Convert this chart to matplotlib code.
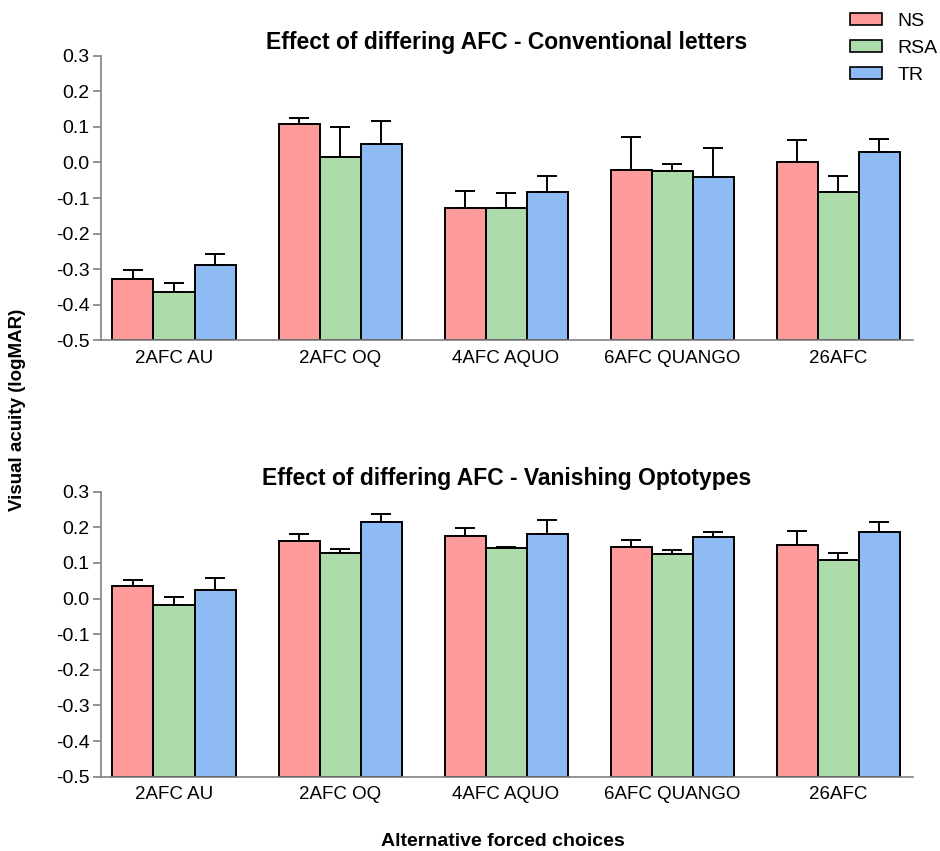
import numpy as np
import matplotlib
matplotlib.use('Agg')
from matplotlib import pyplot as plt
from matplotlib.patches import Patch

plt.rcParams['font.family'] = ['Liberation Sans', 'DejaVu Sans']

categories = ["2AFC AU", "2AFC OQ", "4AFC AQUO", "6AFC QUANGO", "26AFC"]
groups = ["NS", "RSA", "TR"]
colours = ["#FF9B9B", "#ACDCAA", "#8FBBF5"]

# Conventional letters: mean logMAR and upper SEM
letters_ns = [-0.327, 0.107, -0.127, -0.022, 0.002]
letters_rsa = [-0.364, 0.015, -0.127, -0.023, -0.083]
letters_tr = [-0.288, 0.052, -0.084, -0.041, 0.029]
letters_ns_err = [0.025, 0.019, 0.047, 0.094, 0.061]
letters_rsa_err = [0.026, 0.085, 0.040, 0.018, 0.044]
letters_tr_err = [0.030, 0.064, 0.045, 0.082, 0.038]

# Vanishing optotypes
vanish_ns = [0.035, 0.161, 0.176, 0.146, 0.150]
vanish_rsa = [-0.019, 0.129, 0.141, 0.125, 0.109]
vanish_tr = [0.024, 0.214, 0.182, 0.172, 0.187]
vanish_ns_err = [0.018, 0.021, 0.021, 0.019, 0.040]
vanish_rsa_err = [0.023, 0.009, 0.004, 0.012, 0.018]
vanish_tr_err = [0.034, 0.024, 0.039, 0.014, 0.027]

yticks = [-0.5, -0.4, -0.3, -0.2, -0.1, 0.0, 0.1, 0.2, 0.3]
base = -0.5


def drawpanel(ax, title, means, errs):
    x = np.arange(len(categories))
    width = 0.247
    for i, (vals, err) in enumerate(zip(means, errs)):
        pos = x + (i - 1) * width
        vals = np.array(vals)
        ax.bar(pos, vals - base, bottom=base, width=width, color=colours[i],
               edgecolor="black", linewidth=1.4, zorder=2)
        ax.errorbar(pos, vals, yerr=[np.zeros(len(vals)), err], fmt="none",
                    ecolor="black", elinewidth=1.4, capsize=7.5, capthick=1.4, zorder=3)

    ax.set_xlim(-0.44, 4.45)
    ax.set_ylim(-0.5, 0.3)
    ax.set_yticks(yticks)
    ax.set_yticklabels(["%.1f" % t for t in yticks], fontsize=14)
    ax.set_xticks(x)
    ax.set_xticklabels(categories, fontsize=13.5)
    ax.tick_params(axis="x", length=0, pad=7)
    ax.tick_params(axis="y", length=6, color="#808080", width=1.2, pad=2)
    for side in ["top", "right"]:
        ax.spines[side].set_visible(False)
    for side in ["left", "bottom"]:
        ax.spines[side].set_color("#808080")
        ax.spines[side].set_linewidth(1.2)
    ax.set_title(title, fontsize=16.5, fontweight="bold", pad=5)


fig = plt.figure(figsize=(9.4, 8.51), dpi=100)
ax1 = fig.add_axes([0.1074, 0.6001, 0.8636, 0.3344])
ax2 = fig.add_axes([0.1074, 0.0873, 0.8636, 0.3349])

drawpanel(ax1, "Effect of differing AFC - Conventional letters",
          [letters_ns, letters_rsa, letters_tr],
          [letters_ns_err, letters_rsa_err, letters_tr_err])
drawpanel(ax2, "Effect of differing AFC - Vanishing Optotypes",
          [vanish_ns, vanish_rsa, vanish_tr],
          [vanish_ns_err, vanish_rsa_err, vanish_tr_err])

fig.text(0.019, 0.518, "Visual acuity (logMAR)", rotation=90, fontsize=13.5,
         fontweight="bold", ha="center", va="center")
fig.text(0.535, 0.011, "Alternative forced choices", fontsize=14,
         fontweight="bold", ha="center", va="center")

handles = [Patch(facecolor=c, edgecolor="black", linewidth=1.2) for c in colours]
fig.legend(handles, groups, loc="upper left", bbox_to_anchor=(0.904, 0.985),
           frameon=False, fontsize=14, handlelength=1.65, handleheight=0.57,
           labelspacing=0.52, handletextpad=0.82, borderpad=0, borderaxespad=0)

fig.savefig("out.png", dpi=100)
